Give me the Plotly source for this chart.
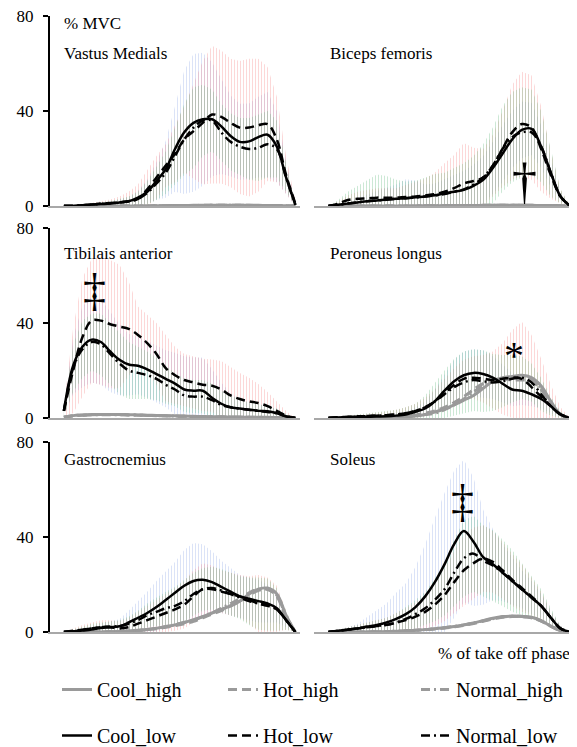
import plotly.graph_objects as go
from plotly.subplots import make_subplots

# ---------------- data ----------------
x_pct = [0, 4, 8, 12, 16, 20, 24, 28, 32, 36, 40, 44, 48, 52, 56, 60, 64, 68, 72, 76, 80, 84, 88, 92, 96, 100]

muscles = ["Vastus Medials", "Biceps femoris", "Tibilais anterior",
           "Peroneus longus", "Gastrocnemius", "Soleus"]
series_names = ["Cool_high", "Hot_high", "Normal_high", "Cool_low", "Hot_low", "Normal_low"]

# Vastus Medials
VM_cool_high = [0, 0, 0, 0, 0, 0, 0, 0, 0, 0, 0.1, 0.1, 0.2, 0.2, 0.3, 0.3, 0.3, 0.3, 0.3, 0.3, 0.3, 0.3, 0.2, 0.2, 0.1, 0]
VM_hot_high = [0, 0, 0, 0, 0, 0, 0, 0, 0, 0, 0.1, 0.1, 0.2, 0.2, 0.2, 0.3, 0.3, 0.3, 0.3, 0.3, 0.3, 0.2, 0.2, 0.2, 0.1, 0]
VM_normal_high = [0, 0, 0, 0, 0, 0, 0, 0, 0, 0, 0.1, 0.1, 0.1, 0.2, 0.2, 0.2, 0.3, 0.3, 0.3, 0.3, 0.2, 0.2, 0.2, 0.1, 0.1, 0]
VM_cool_low = [0, 0, 0.3, 0.6, 0.8, 1, 1.5, 2, 3.5, 6, 10.5, 15.5, 24, 31, 35, 36.5, 36.5, 33.5, 29.5, 27, 27.2, 29, 30, 25, 12, 0.5]
VM_hot_low = [0, 0, 0.3, 0.6, 1, 1.2, 1.5, 2, 3, 7, 12, 17, 22, 28, 31.5, 35, 38.5, 37.5, 35, 33, 33, 34, 34.5, 28, 13, 1]
VM_normal_low = [0, 0, 0.3, 0.6, 0.9, 1.1, 1.5, 2, 3, 5.5, 9.5, 14, 21, 28, 33, 36, 36, 31, 27, 25, 24, 24.5, 26, 24, 12, 0.5]
VM_cool_sd = [0, 0, 0.2, 0.4, 0.6, 0.8, 1.2, 1.8, 3, 5, 8, 12, 18, 26, 29, 28, 24, 20, 17, 16, 16, 17, 18, 15, 7, 0.5]
VM_hot_sd = [0, 0, 0.3, 0.6, 1, 1.5, 2.5, 4, 6, 8, 9, 9, 12, 14, 20, 26, 29, 28, 27, 28, 29, 28, 24, 18, 8, 1]
VM_normal_sd = [0, 0, 0.2, 0.4, 0.6, 1, 1.5, 2, 3, 5, 7, 9, 12, 15, 17, 15, 13, 12, 12, 12, 13, 14, 14, 12, 6, 0.5]

# Biceps femoris
BF_cool_high = [0, 0, 0, 0, 0, 0, 0, 0, 0, 0, 0.1, 0.1, 0.1, 0.2, 0.2, 0.2, 0.3, 0.3, 0.3, 0.3, 0.3, 0.3, 0.2, 0.2, 0.1, 0]
BF_hot_high = [0, 0, 0, 0, 0, 0, 0, 0, 0, 0, 0.1, 0.1, 0.1, 0.2, 0.2, 0.2, 0.3, 0.3, 0.3, 0.3, 0.3, 0.3, 0.2, 0.2, 0.1, 0]
BF_normal_high = [0, 0, 0, 0, 0, 0, 0, 0, 0, 0, 0.1, 0.1, 0.1, 0.2, 0.2, 0.2, 0.2, 0.3, 0.3, 0.3, 0.3, 0.2, 0.2, 0.2, 0.1, 0]
BF_cool_low = [0, 0.5, 1, 1.5, 2, 2.3, 2.7, 3, 3.3, 3.7, 4, 4.5, 5.3, 6, 6.8, 8.5, 11, 16, 22, 28, 32, 32.5, 25, 14, 4, 0]
BF_hot_low = [0, 1, 2.5, 3, 3.2, 3.5, 3.5, 3.5, 3.8, 4, 4.5, 5, 6, 7.5, 9.5, 10.5, 12, 17, 24, 31, 34.5, 33, 24, 13, 4, 0]
BF_normal_low = [0, 0.5, 1, 1.5, 2, 2.3, 2.6, 3, 3.3, 3.6, 4, 4.5, 5, 6, 7, 9, 12, 17, 24, 29, 31, 31, 25, 14, 4, 0]
BF_cool_sd = [0, 0.5, 1, 2, 3, 4, 5, 6, 8, 7, 5, 5, 6, 7, 8, 9, 10, 11, 12, 12, 12, 11, 9, 6, 2, 0]
BF_hot_sd = [0, 1, 2, 3, 3.5, 4, 4, 4, 5, 6, 7, 9, 12, 14, 17, 14, 12, 13, 16, 20, 22, 22, 18, 10, 3, 0]
BF_normal_sd = [0, 2, 5, 7, 9, 11, 10, 8, 7, 7, 8, 9, 9, 10, 11, 12, 14, 16, 18, 19, 19, 18, 15, 10, 3, 0]

# Tibilais anterior
TA_cool_high = [0.3, 1, 1.3, 1.5, 1.5, 1.5, 1.5, 1.4, 1.3, 1.2, 1.1, 1, 0.9, 0.8, 0.7, 0.6, 0.5, 0.5, 0.4, 0.4, 0.3, 0.3, 0.3, 0.2, 0.1, 0]
TA_hot_high = [0.3, 0.9, 1.2, 1.4, 1.5, 1.5, 1.4, 1.3, 1.2, 1.1, 1, 0.9, 0.8, 0.7, 0.6, 0.6, 0.5, 0.4, 0.4, 0.3, 0.3, 0.3, 0.2, 0.2, 0.1, 0]
TA_normal_high = [0.3, 1, 1.2, 1.3, 1.4, 1.4, 1.4, 1.3, 1.2, 1.1, 1, 0.9, 0.8, 0.7, 0.6, 0.5, 0.5, 0.4, 0.4, 0.3, 0.3, 0.2, 0.2, 0.2, 0.1, 0]
TA_cool_low = [3, 22, 30, 33, 32, 28, 24.5, 22.5, 22, 20.5, 18.5, 16.5, 14.5, 12, 11.5, 11.5, 8.5, 6, 4.5, 4, 3.5, 3, 2.8, 2, 0.7, 0]
TA_hot_low = [3, 20, 34, 41, 41, 39.5, 38.5, 37.5, 35, 31.5, 27, 21, 18, 16, 15, 14, 13.6, 12, 9.5, 8, 7, 6.3, 5, 3, 1, 0]
TA_normal_low = [3, 21, 29, 32, 31, 27, 23, 20, 19, 18, 16.5, 14, 12, 9.5, 9, 9, 7.5, 5.5, 4.5, 4, 3.5, 3, 2.5, 2, 0.7, 0]
TA_cool_sd = [2, 12, 17, 18, 18, 17, 15, 13, 12, 12, 12, 12, 13, 14, 14, 14, 12, 9, 6, 4, 3, 3, 2, 2, 1, 0]
TA_hot_sd = [2, 18, 25, 26, 27, 27, 26, 20, 12, 12, 13, 14, 12, 11, 11, 11, 11, 12, 12, 11, 10, 8, 6, 4, 2, 0]
TA_normal_sd = [2, 10, 12, 12, 13, 13, 13, 12, 11, 10, 9, 8, 7, 7, 7, 7, 7, 6, 5, 4, 3, 3, 2, 2, 1, 0]

# Peroneus longus
PL_cool_high = [0, 0, 0, 0, 0, 0.1, 0.2, 0.3, 0.5, 0.8, 1.5, 2.5, 3.8, 5.5, 7.5, 9.5, 12.5, 15.5, 17, 17.5, 18, 17, 13.5, 7, 1.5, 0]
PL_hot_high = [0, 0, 0, 0, 0, 0.1, 0.2, 0.4, 0.7, 1.2, 2, 3, 4.5, 6.5, 9, 12, 14.5, 16, 16.5, 16, 16, 15.5, 12, 6, 1.5, 0]
PL_normal_high = [0, 0, 0, 0, 0, 0.1, 0.2, 0.3, 0.5, 1, 1.5, 2, 3.5, 5.5, 8, 11, 13.5, 15.5, 16.5, 17, 17, 16, 12.5, 6.5, 1.5, 0]
PL_cool_low = [0, 0.2, 0.3, 0.4, 0.5, 0.6, 0.7, 1, 1.5, 2.6, 4, 7, 11.5, 15.5, 18, 19, 18.5, 17, 14.5, 12, 11.5, 10, 8, 5, 1.5, 0]
PL_hot_low = [0, 0.3, 0.5, 0.7, 0.8, 1, 1.2, 1.5, 2, 3, 4.5, 7, 10.5, 14, 16.5, 17, 16.5, 16, 16.5, 17, 16.5, 13, 9, 5, 1.5, 0]
PL_normal_low = [0, 0.2, 0.4, 0.6, 0.8, 1, 1.2, 1.5, 2, 3, 4.5, 7, 10, 13, 15, 16, 15.5, 15, 15.5, 16.5, 17, 15, 10, 5, 1.5, 0]
PL_cool_sd = [0, 0.2, 0.3, 0.4, 0.5, 0.6, 0.7, 1, 1.5, 2, 3, 5, 7, 9, 10, 10, 10, 9, 8, 7, 6, 5, 4, 3, 1, 0]
PL_hot_sd = [0, 0.3, 0.5, 0.7, 1, 1.2, 1.5, 2, 2.5, 3, 4, 5, 6, 7, 8, 9, 10, 12, 15, 20, 24, 22, 16, 9, 3, 0]
PL_normal_sd = [0, 0.3, 0.5, 0.7, 1, 1.2, 1.5, 2, 2.5, 3, 5, 8, 10, 12, 13, 13, 13, 12, 11, 10, 9, 8, 7, 4, 1.5, 0]

# Gastrocnemius
GA_cool_high = [0, 0, 0, 0, 0, 0.1, 0.2, 0.4, 0.7, 1.1, 1.6, 2.3, 3, 4, 5.2, 6.5, 8, 9.5, 11, 13, 16, 18, 18.5, 16, 7, 0]
GA_hot_high = [0, 0, 0, 0, 0, 0.1, 0.2, 0.3, 0.6, 1, 1.4, 2, 2.7, 3.5, 4.5, 6, 7.5, 9, 11, 13, 15.5, 17.5, 18, 15, 6, 0]
GA_normal_high = [0, 0, 0, 0, 0, 0.1, 0.2, 0.4, 0.7, 1.1, 1.6, 2.2, 3, 4, 5, 6.5, 8, 10, 12, 14, 16.5, 18, 18, 15.5, 6.5, 0]
GA_cool_low = [0, 0.3, 0.6, 1, 1.7, 2, 2.4, 4, 6, 8, 10.5, 13.5, 16.5, 19.5, 21.5, 22, 21, 19, 17, 15, 14, 13, 12, 10, 5, 0]
GA_hot_low = [0, 0.5, 1, 1.5, 2, 2, 1.5, 2, 3.5, 5, 6.5, 8, 9.5, 11.5, 15, 18, 18, 17, 16, 15, 13.5, 12, 11, 9.5, 5, 0]
GA_normal_low = [0, 0.3, 0.8, 1.5, 2, 2.3, 2.5, 3.5, 5, 7, 8.5, 10, 11, 13, 16, 18, 18.5, 17.5, 16, 14.5, 13, 12, 11.5, 9.5, 5, 0]
GA_cool_sd = [0, 0.5, 1, 1.5, 2, 2.5, 3, 5, 7, 9, 11, 12, 13, 15, 16, 15, 13, 11, 10, 9, 9, 9, 8, 6, 3, 0]
GA_hot_sd = [0, 1, 2, 2.5, 3, 3, 3, 4, 5, 6, 7, 8, 9, 10, 11, 11, 10, 9, 9, 9, 10, 12, 12, 10, 4, 0]
GA_normal_sd = [0, 1, 1.5, 2, 2, 2, 2.5, 3, 4, 5, 6, 7, 8, 9, 9, 9, 9, 9, 9, 9, 10, 11, 11, 9, 4, 0]

# Soleus
SO_cool_high = [0, 0, 0, 0, 0, 0.1, 0.2, 0.3, 0.5, 0.7, 1, 1.4, 1.8, 2.3, 3, 3.8, 4.8, 5.8, 6.5, 6.7, 6.6, 6.2, 4.8, 2.5, 0.6, 0]
SO_hot_high = [0, 0, 0, 0, 0, 0.1, 0.2, 0.3, 0.5, 0.7, 1, 1.3, 1.7, 2.2, 2.8, 3.6, 4.5, 5.5, 6.2, 6.5, 6.5, 6, 4.6, 2.4, 0.6, 0]
SO_normal_high = [0, 0, 0, 0, 0, 0.1, 0.2, 0.3, 0.5, 0.7, 1, 1.4, 1.8, 2.4, 3, 3.8, 4.7, 5.6, 6.3, 6.6, 6.5, 6.1, 4.7, 2.5, 0.6, 0]
SO_cool_low = [0, 0.5, 1, 1.5, 2.3, 3, 4, 5.5, 7.5, 10.5, 15, 21, 28.5, 37, 42.5, 38, 31.5, 28.5, 25, 21.5, 18, 14.5, 11, 6, 1.5, 0]
SO_hot_low = [0, 0.5, 1, 1.5, 2, 2.5, 3, 4, 5, 6.5, 8.5, 11.5, 15.5, 21, 26, 29, 31, 29.5, 26, 22, 18.5, 15, 11, 6, 1.5, 0]
SO_normal_low = [0, 0.5, 1, 1.5, 2, 2.5, 3, 4, 5.5, 7.5, 10, 13.5, 18, 25, 31, 33, 30, 28, 25, 21.5, 18, 14.5, 11, 6, 1.5, 0]
SO_cool_sd = [0, 0.5, 1, 2, 4, 6, 8, 11, 13, 17, 22, 27, 30, 31, 30, 27, 20, 15, 12, 10, 8, 7, 5, 3, 1, 0]
SO_hot_sd = [0, 0.5, 1, 1.5, 2, 2.5, 3, 4, 5, 6, 7, 9, 11, 13, 15, 15, 14, 13, 12, 11, 10, 8, 6, 3, 1, 0]
SO_normal_sd = [0, 0.5, 1, 1.5, 2, 2.5, 3, 4, 5, 6, 7, 9, 11, 14, 16, 16, 15, 15, 14, 13, 11, 9, 7, 4, 1, 0]

# significance markers: (panel index, x, y, symbol)
sig_panel = [1, 2, 3, 5]
sig_x = [81.3, 13.4, 76.7, 55.6]
sig_y = [10.5, 53.5, 26.5, 55]
sig_text = ["†", "‡", "*", "‡"]

# ---------------- assemble ----------------
panel_lines = [
    [VM_cool_high, VM_hot_high, VM_normal_high, VM_cool_low, VM_hot_low, VM_normal_low],
    [BF_cool_high, BF_hot_high, BF_normal_high, BF_cool_low, BF_hot_low, BF_normal_low],
    [TA_cool_high, TA_hot_high, TA_normal_high, TA_cool_low, TA_hot_low, TA_normal_low],
    [PL_cool_high, PL_hot_high, PL_normal_high, PL_cool_low, PL_hot_low, PL_normal_low],
    [GA_cool_high, GA_hot_high, GA_normal_high, GA_cool_low, GA_hot_low, GA_normal_low],
    [SO_cool_high, SO_hot_high, SO_normal_high, SO_cool_low, SO_hot_low, SO_normal_low],
]
panel_sd = [
    [VM_cool_sd, VM_hot_sd, VM_normal_sd],
    [BF_cool_sd, BF_hot_sd, BF_normal_sd],
    [TA_cool_sd, TA_hot_sd, TA_normal_sd],
    [PL_cool_sd, PL_hot_sd, PL_normal_sd],
    [GA_cool_sd, GA_hot_sd, GA_normal_sd],
    [SO_cool_sd, SO_hot_sd, SO_normal_sd],
]

FONT = "Liberation Serif, Times New Roman, serif"
GRAY = "#9a9a9a"
band_colors = ["rgba(140,165,230,0.7)", "rgba(245,130,130,0.7)", "rgba(90,180,120,0.7)"]
dash_styles = ["solid", "9px,5px", "9px,4px,2px,4px"]
legend_ids = ["legend", "legend2", "legend3"]

fig = make_subplots(rows=3, cols=2)

for p in range(6):
    r, c = p // 2 + 1, p % 2 + 1
    # SD bands (vertical hatch)
    for k in range(3):
        mean = panel_lines[p][3 + k]
        sd = panel_sd[p][k]
        upper = [m + s for m, s in zip(mean, sd)]
        lower = [max(m - s, 0) for m, s in zip(mean, sd)]
        fig.add_trace(go.Scatter(
            x=x_pct + x_pct[::-1], y=upper + lower[::-1],
            fill="toself", mode="lines", line=dict(width=0),
            fillcolor="rgba(0,0,0,0)",
            fillpattern=dict(shape="|", fgcolor=band_colors[k], bgcolor="rgba(0,0,0,0)",
                             size=3, solidity=0.3),
            hoverinfo="skip", showlegend=False), row=r, col=c)
    # mean lines
    for s in range(6):
        k = s % 3
        is_high = s < 3
        fig.add_trace(go.Scatter(
            x=x_pct, y=panel_lines[p][s], mode="lines", line_shape="spline",
            name=series_names[s], legendgroup=series_names[s],
            legend=legend_ids[k],
            showlegend=(p == 0),
            line=dict(color=GRAY if is_high else "black",
                      width=3 if is_high else 2.5, dash=dash_styles[k])),
            row=r, col=c)

# domains
xdom_left = [0, 250 / 525]
xdom_right = [264 / 525, 1]
ydoms = [[0.6916, 1.0], [0.3474, 0.6558], [0.0, 0.3084]]

for p in range(6):
    idx = "" if p == 0 else str(p + 1)
    left = (p % 2 == 0)
    fig.layout["xaxis" + idx].update(
        domain=xdom_left if left else xdom_right, range=[-6, 102],
        showline=True, linecolor="#a8a8a8", linewidth=1.5, ticks="",
        showticklabels=False, showgrid=False, zeroline=False)
    yax = dict(domain=ydoms[p // 2], range=[0, 80], showgrid=False, zeroline=False)
    if left:
        yax.update(showline=True, linecolor="black", linewidth=2, ticks="outside",
                   ticklen=5, tickwidth=2, tickcolor="black", tickvals=[0, 40, 80],
                   ticktext=["0", "40", "80"], ticklabelstandoff=6,
                   ticklabeloverflow="allow",
                   tickfont=dict(family=FONT, size=17, color="black"))
    else:
        yax.update(showline=False, showticklabels=False, ticks="")
    fig.layout["yaxis" + idx].update(**yax)

# titles
title_y = [0.80, 0.80, 0.865, 0.865, 0.91, 0.91]
annotations = []
for p in range(6):
    idx = "" if p == 0 else str(p + 1)
    annotations.append(dict(text=muscles[p], xref="x" + idx + " domain", yref="y" + idx + " domain",
                            x=0.048 if p % 2 == 0 else 0.054, y=title_y[p],
                            xanchor="left", yanchor="middle", showarrow=False,
                            font=dict(family=FONT, size=17, color="black")))
annotations.append(dict(text="% MVC", xref="x domain", yref="y domain", x=0.048, y=0.963,
                        xanchor="left", yanchor="middle", showarrow=False,
                        font=dict(family=FONT, size=17, color="black")))
annotations.append(dict(text="% of take off phase", xref="paper", yref="paper",
                        x=(572 - 50) / 525, y=(632 - 653) / 616, xanchor="right", yanchor="middle",
                        showarrow=False, font=dict(family=FONT, size=17, color="black")))
for i in range(len(sig_text)):
    p = sig_panel[i]
    idx = "" if p == 0 else str(p + 1)
    annotations.append(dict(text=sig_text[i], xref="x" + idx, yref="y" + idx,
                            x=sig_x[i], y=sig_y[i], xanchor="center", yanchor="middle",
                            showarrow=False,
                            font=dict(family=FONT, size=50 if sig_text[i] == "†" else (46 if sig_text[i] == "‡" else 40),
                                      color="black")))

leg_common = dict(orientation="v", yanchor="top", xanchor="left", y=(632 - 670) / 616,
                  bgcolor="rgba(0,0,0,0)", borderwidth=0, tracegroupgap=17,
                  font=dict(family=FONT, size=20, color="black"))

# the page body has an 8px default margin, so the figure is 8px smaller
fig.update_layout(
    width=569, height=739,
    margin=dict(l=42, r=2, t=8, b=115, autoexpand=False),
    paper_bgcolor="white", plot_bgcolor="white",
    annotations=annotations,
    legend=dict(x=(57 - 50) / 525, **leg_common),
    legend2=dict(x=(223 - 50) / 525, **leg_common),
    legend3=dict(x=(416 - 50) / 525, **leg_common),
    font=dict(family=FONT, color="black"),
)

fig.write_html("out.html")
